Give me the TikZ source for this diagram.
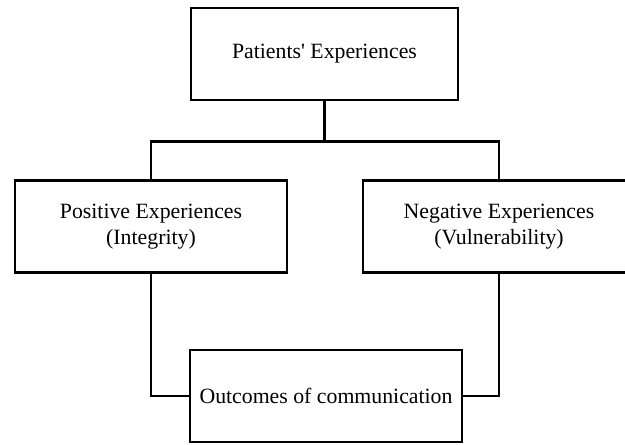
\documentclass[tikz,border=0pt]{standalone}
\usepackage{fontspec}
\setmainfont{Liberation Serif}
\newfontfamily\boxfont{Liberation Serif}
\usepackage{tikz}
\usetikzlibrary{positioning,calc}
\tikzset{
    ebox/.style={draw, line width=1.6pt, minimum width=#1,
                 minimum height=1.84cm, align=center,
                 font=\boxfont\fontsize{12.4}{14.6}\selectfont, inner sep=2pt},
}

\begin{document}
\begin{tikzpicture}[
    link/.style={line width=1.6pt},
]
    \useasboundingbox (0,0) rectangle (12.5,8.88);
    \node[ebox=5.34cm] (patients) at (6.49,7.80) {Patients' Experiences};
    \node[ebox=5.44cm] (positive) at (3.02,4.35)
        {Positive Experiences\\(Integrity)};
    \node[ebox=5.44cm] (negative) at (9.98,4.35)
        {Negative Experiences\\(Vulnerability)};
    \node[ebox=5.44cm] (outcomes) at (6.52,0.96) {Outcomes of communication};
    \coordinate (split) at ($(patients.south)+(0,-0.8)$);
    \draw[link] (patients.south) -- (split);
    \draw[link] (split) -| (positive.north);
    \draw[link] (split) -| (negative.north);
    \draw[link] (positive.south) |- (outcomes.west);
    \draw[link] (negative.south) |- (outcomes.east);
\end{tikzpicture}
\end{document}
